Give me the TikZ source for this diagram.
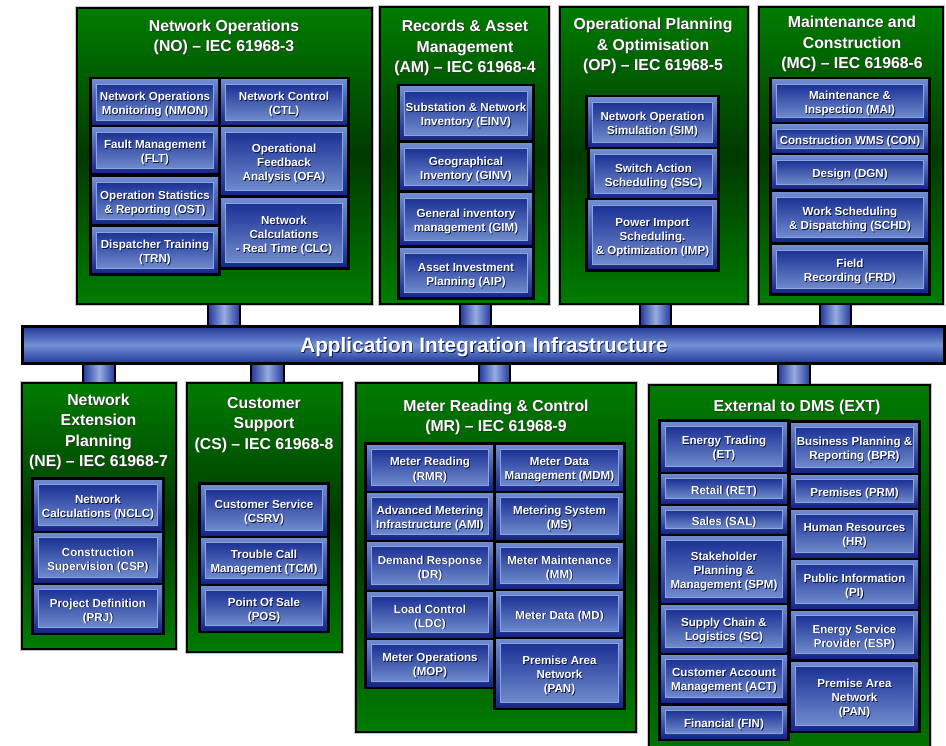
\documentclass[tikz,border=0pt]{standalone}
\usepackage{fontspec}
\setmainfont{Liberation Sans}
\definecolor{pgreen}{RGB}{0,124,0}
\definecolor{dgreen}{RGB}{0,58,0}
\definecolor{blight}{RGB}{112,140,206}
\definecolor{bnavy}{RGB}{22,38,136}
\definecolor{itop}{RGB}{28,50,150}
\definecolor{ibot}{RGB}{112,139,204}
\definecolor{iedge}{RGB}{140,165,222}
\definecolor{bardark}{RGB}{34,56,154}
\definecolor{barlight}{RGB}{116,146,214}
\definecolor{stublight}{RGB}{150,172,224}
\definecolor{tshadow}{RGB}{8,16,60}
\pgfdeclarelayer{back}
\pgfdeclarelayer{frm}
\pgfsetlayers{back,frm,main}
\tikzset{
  panelbox/.style={draw=black, line width=2pt, top color=pgreen, bottom color=pgreen, middle color=dgreen, inner sep=0pt, outer sep=0pt, anchor=north west},
  boxtext/.style={text=white, font=\fontsize{11.6}{14}\selectfont\bfseries, align=center, inner sep=0pt, outer sep=0pt},
  boxshadow/.style={boxtext, text=tshadow},
  titletext/.style={text=white, font=\fontsize{15.8}{20.3}\selectfont\bfseries, align=center, inner sep=0pt},
  titleshadow/.style={titletext, text=black!80},
  barbox/.style={draw=black, line width=3pt, top color=bardark, bottom color=bardark, middle color=barlight, inner sep=0pt, outer sep=0pt, anchor=north west},
  bartext/.style={text=white, font=\fontsize{20.8}{24}\selectfont\bfseries, inner sep=0pt},
  barshadow/.style={bartext, text=tshadow},
  stubbox/.style={draw=black, line width=2.5pt, left color=bardark, right color=bardark, middle color=stublight}
}
\newcommand\mkpanel[5]{%
  \begin{pgfonlayer}{back}
    \draw[gray!45, line width=0.7pt] (#2-1.7,#3-1.7) rectangle (#4+1.7,#5+1.7);
    \node[panelbox, minimum width={#4-#2}, minimum height={#5-#3}] (#1) at (#2,#3) {};
  \end{pgfonlayer}}
\newcommand\mkbox[6]{%
  \begin{pgfonlayer}{frm}
    \fill[black] (#2-2.6,#3-2.6) rectangle (#4+2.6,#5+2.6);
  \end{pgfonlayer}
  \path[top color=blight, bottom color=bnavy] (#2,#3) rectangle (#4,#5);
  \path[top color=itop, bottom color=ibot, draw=iedge, line width=0.5pt] (#2+4.5,#3+4.5) rectangle (#4-4.5,#5-4.5);
  \node[boxshadow] (#1s) at ({(#2+#4)/2+0.8},{(#3+#5)/2+3.3}) {#6};
  \node[boxtext, minimum width={#4-#2}, minimum height={#5-#3}] (#1) at ({(#2+#4)/2},{(#3+#5)/2+2.5}) {#6};}
\newcommand\mktitle[4]{%
  \node[titleshadow] (#1s) at (#2+0.8,#3+0.8) {#4};
  \node[titletext] (#1) at (#2,#3) {#4};}
\begin{document}
\begin{tikzpicture}[x=1pt,y=-1pt]
\useasboundingbox (0,0) rectangle (946,746);
\begin{pgfonlayer}{back}
\fill[white] (0,0) rectangle (946,746);
\end{pgfonlayer}
% panels
\mkpanel{NO}{77}{8}{372}{304}
\mkpanel{AM}{380}{7}{549}{304}
\mkpanel{OP}{560}{7}{748}{304}
\mkpanel{MC}{759}{7}{943}{304}
\mkpanel{NE}{22}{383}{176}{649}
\mkpanel{CS}{187}{383}{342}{652}
\mkpanel{MR}{356}{383}{636}{732}
\mkpanel{EXT}{649}{385}{930}{775}
% bar
\node[barbox, minimum width=922, minimum height=36] (AII) at (22,327) {};
% stubs
\draw[stubbox] (208,0 |- NO.south) rectangle (240,0 |- AII.north);
\draw[stubbox] (460,0 |- AM.south) rectangle (491,0 |- AII.north);
\draw[stubbox] (640,0 |- OP.south) rectangle (671,0 |- AII.north);
\draw[stubbox] (820,0 |- MC.south) rectangle (851,0 |- AII.north);
\draw[stubbox] (83,0 |- AII.south) rectangle (115,0 |- NE.north);
\draw[stubbox] (251,0 |- AII.south) rectangle (284,0 |- CS.north);
\draw[stubbox] (479,0 |- AII.south) rectangle (510,0 |- MR.north);
\draw[stubbox] (778,0 |- AII.south) rectangle (810,0 |- EXT.north);
\node[barbox, minimum width=922, minimum height=36] (AIIb) at (22,327) {};
\node[barshadow] (AIIts) at (484.8,347.8) {Application Integration Infrastructure};
\node[bartext] (AIIt) at (484,347) {Application Integration Infrastructure};
% titles
\mktitle{NOt}{224}{37.5}{Network Operations\\(NO) – IEC 61968-3}
\mktitle{AMt}{465}{48}{Records \& Asset\\Management\\(AM) – IEC 61968-4}
\mktitle{OPt}{653}{46}{Operational Planning\\\& Optimisation\\(OP) – IEC 61968-5}
\mktitle{MCt}{852}{44}{Maintenance and\\Construction\\(MC) – IEC 61968-6}
\mktitle{NEt}{98.5}{432}{Network\\Extension\\Planning\\(NE) – IEC 61968-7}
\mktitle{CSt}{264}{425}{Customer\\Support\\(CS) – IEC 61968-8}
\mktitle{MRt}{496}{417.5}{Meter Reading \& Control\\(MR) – IEC 61968-9}
\mktitle{EXTt}{797}{407.5}{External to DMS (EXT)}
% NO
\mkbox{NMON}{92}{80}{218}{125}{Network Operations\\Monitoring (NMON)}
\mkbox{FLT}{92}{128}{218}{173}{Fault Management\\(FLT)}
\mkbox{OST}{92}{178}{218}{224}{Operation Statistics\\\& Reporting (OST)}
\mkbox{TRN}{92}{228}{218}{273}{Dispatcher Training\\(TRN)}
\mkbox{CTL}{221}{80}{347}{125}{Network Control\\(CTL)}
\mkbox{OFA}{221}{128}{347}{195}{Operational\\Feedback\\Analysis (OFA)}
\mkbox{CLC}{221}{199}{347}{267}{Network\\Calculations\\- Real Time (CLC)}
% AM
\mkbox{EINV}{400}{87}{532}{140}{Substation \& Network\\Inventory (EINV)}
\mkbox{GINV}{400}{144}{532}{190}{Geographical\\Inventory (GINV)}
\mkbox{GIM}{400}{194}{532}{245}{General inventory\\management (GIM)}
\mkbox{AIP}{400}{249}{532}{297}{Asset Investment\\Planning (AIP)}
% OP
\mkbox{SIM}{588}{98}{717}{147}{Network Operation\\Simulation (SIM)}
\mkbox{SSC}{590}{150}{717}{198}{Switch Action\\Scheduling (SSC)}
\mkbox{IMP}{588}{201}{717}{269}{Power Import\\Scheduling.\\\& Optimization (IMP)}
% MC
\mkbox{MAI}{772}{80}{928}{122}{Maintenance \&\\Inspection (MAI)}
\mkbox{CON}{772}{125}{928}{153}{Construction WMS (CON)}
\mkbox{DGN}{772}{156}{928}{189}{Design (DGN)}
\mkbox{SCHD}{772}{193}{928}{242}{Work Scheduling\\\& Dispatching (SCHD)}
\mkbox{FRD}{772}{246}{928}{293}{Field\\Recording (FRD)}
% NE
\mkbox{NCLC}{34}{480}{162}{530}{Network\\Calculations (NCLC)}
\mkbox{CSP}{34}{533}{162}{582}{Construction\\Supervision (CSP)}
\mkbox{PRJ}{34}{585}{162}{632}{Project Definition\\(PRJ)}
% CS
\mkbox{CSRV}{201}{485}{327}{535}{Customer Service\\(CSRV)}
\mkbox{TCM}{201}{538}{327}{583}{Trouble Call\\Management (TCM)}
\mkbox{POS}{201}{586}{327}{630}{Point Of Sale\\(POS)}
% MR
\mkbox{RMR}{367}{445}{493}{490}{Meter Reading\\(RMR)}
\mkbox{AMI}{367}{493}{493}{539}{Advanced Metering\\Infrastructure (AMI)}
\mkbox{DR}{367}{542}{493}{589}{Demand Response\\(DR)}
\mkbox{LDC}{367}{592}{493}{637}{Load Control\\(LDC)}
\mkbox{MOP}{367}{640}{493}{686}{Meter Operations\\(MOP)}
\mkbox{MDM}{496}{445}{623}{490}{Meter Data\\Management (MDM)}
\mkbox{MS}{496}{493}{623}{539}{Metering System\\(MS)}
\mkbox{MM}{496}{543}{623}{588}{Meter Maintenance\\(MM)}
\mkbox{MD}{496}{591}{623}{636}{Meter Data (MD)}
\mkbox{PAN}{496}{639}{623}{707}{Premise Area\\Network\\(PAN)}
% EXT
\mkbox{ET}{661}{422}{787}{471}{Energy Trading\\(ET)}
\mkbox{RET}{661}{474}{787}{503}{Retail (RET)}
\mkbox{SAL}{661}{506}{787}{533}{Sales (SAL)}
\mkbox{SPM}{661}{536}{787}{602}{Stakeholder\\Planning \&\\Management (SPM)}
\mkbox{SC}{661}{605}{787}{652}{Supply Chain \&\\Logistics (SC)}
\mkbox{ACT}{661}{655}{787}{702}{Customer Account\\Management (ACT)}
\mkbox{FIN}{661}{706}{787}{738}{Financial (FIN)}
\mkbox{BPR}{791}{423}{918}{472}{Business Planning \&\\Reporting (BPR)}
\mkbox{PRM}{791}{475}{918}{507}{Premises (PRM)}
\mkbox{HR}{791}{510}{918}{557}{Human Resources\\(HR)}
\mkbox{PI}{791}{560}{918}{608}{Public Information\\(PI)}
\mkbox{ESP}{791}{611}{918}{658}{Energy Service\\Provider (ESP)}
\mkbox{EPAN}{791}{662}{918}{730}{Premise Area\\Network\\(PAN)}
\end{tikzpicture}
\end{document}
